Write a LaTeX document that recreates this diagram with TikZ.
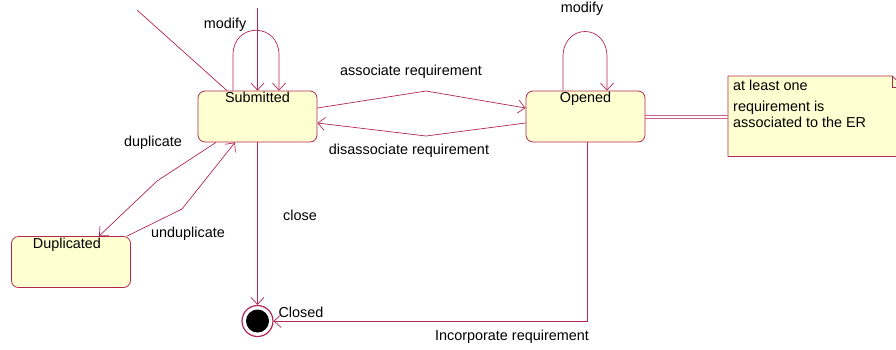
\documentclass[tikz,border=0pt]{standalone}
\usepackage{fontspec}
\setmainfont{Liberation Sans}
\usetikzlibrary{arrows.meta}
\definecolor{edge}{RGB}{176,40,82}
\definecolor{linkpink}{RGB}{205,100,135}
\definecolor{statefill}{RGB}{255,255,210}

\begin{document}
\begin{tikzpicture}[x=1pt,y=-1pt,
  state/.style={draw=edge, fill=statefill, rounded corners=7pt, line width=0.8pt,
                inner sep=0pt, minimum width=119pt, minimum height=51pt},
  lbl/.style={font=\fontsize{14.4}{16}\selectfont, inner sep=0pt},
  title/.style={lbl, anchor=north, yshift=-1.5pt},
  trans/.style={draw=edge, line width=0.7pt, -{Straight Barb[length=7pt,width=13pt]}},
  plain/.style={draw=edge, line width=0.7pt},
  notelink/.style={draw=linkpink, line width=0.7pt},
]
\useasboundingbox (0,0) rectangle (896,349);
\clip (0,0) rectangle (896,349);

% states
\node[state, label={[title]north:Submitted}] (sub) at (257.5,116.5) {};
\node[state, label={[title]north:Opened}] (opn) at (585.5,116.5) {};
\node[state, label={[title, xshift=-4pt]north:Duplicated}] (dup) at (71,262) {};
\node[circle, draw=edge, fill=white, line width=1.2pt, minimum size=31pt, inner sep=0pt] (cls) at (257.5,321) {};
\fill (cls.center) circle (11.5);

% note attached to Opened
\node[inner sep=0pt, minimum width=175pt, minimum height=80pt, anchor=north west] (note) at (728,76) {};
\draw[edge, fill=statefill, line width=0.8pt]
  (note.north west) -- ([xshift=-11pt]note.north east) -- ([yshift=-11pt]note.north east)
  -- (note.south east) -- (note.south west) -- cycle;
\draw[edge, line width=0.8pt]
  ([xshift=-11pt]note.north east) -- ([xshift=-11pt,yshift=-11pt]note.north east) -- ([yshift=-11pt]note.north east);
\node[lbl, anchor=base west] (n1) at (733,90) {at least one};
\node[lbl, anchor=base west] (n2) at (733,111) {requirement is};
\node[lbl, anchor=base west] (n3) at (733,127) {associated to the ER};
\draw[notelink] (opn.east |- 0,115.8) -- (note.west |- 0,115.8);
\draw[notelink] (opn.east |- 0,118.2) -- (note.west |- 0,118.2);

% transitions entering from outside
\coordinate (topin) at (257.5,8);
\coordinate (diagin) at (137,10);
\draw[trans] (topin) -- (sub.north);
\draw[plain] (diagin) -- (sub.north -| 227,0);

% self loops
\draw[trans] (sub.north -| 233,0) -- (233,55) .. controls (233,22) and (279,22) .. (279,55) -- (sub.north -| 279,0);
\node[lbl] (lmod) at (225,25) {modify};
\draw[trans] (opn.north -| 563,0) -- (563,57) .. controls (563,23) and (607,23) .. (607,57) -- (opn.north -| 607,0);
\node[lbl, anchor=base] (lmod2) at (582,12) {modify};

% Submitted <-> Opened
\draw[trans] (sub.east |- 0,108) -- (426,91) -- (opn.west |- 0,108);
\draw[trans] (opn.west |- 0,123) -- (426,136) -- (sub.east |- 0,123);
\node[lbl] (lassoc) at (411,72) {associate requirement};
\node[lbl] (ldis) at (409,151) {disassociate requirement};

% Submitted <-> Duplicated
\draw[trans] (sub.south -| 216,0) -- (157,181) -- (dup.north -| 99,0);
\draw[trans] (dup.north -| 127,0) -- (182,209) -- (sub.south -| 235,0);
\node[lbl] (ldup) at (153,143) {duplicate};
\node[lbl] (lundup) at (188,234) {unduplicate};

% to the final state
\draw[trans] (sub.south) -- (cls.north);
\node[lbl] (lclose) at (300,215) {close};
\draw[trans] (opn.south -| 587,0) |- (cls.east);
\node[lbl] (lclosed) at (301,312) {Closed};
\node[lbl] (linc) at (512,337) {Incorporate requirement};
\end{tikzpicture}
\end{document}
